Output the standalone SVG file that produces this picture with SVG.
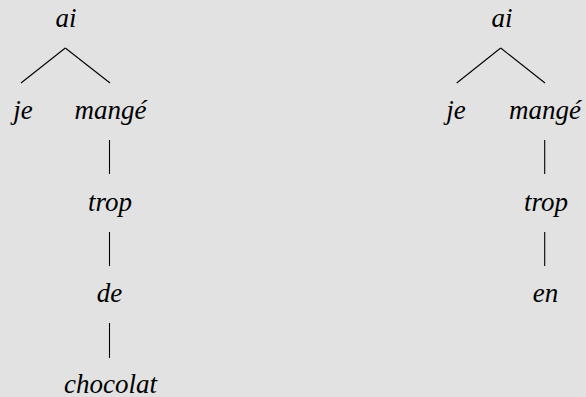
<svg xmlns="http://www.w3.org/2000/svg" width="586" height="397" viewBox="0 0 586 397">
<style>
.e line{stroke:#000;stroke-width:1.1}
</style>
<rect width="586" height="397" fill="#e2e2e2"/>
<g class="e" id="edges">
<line x1="65.3" y1="48" x2="21" y2="83"/>
<line x1="65.3" y1="48" x2="110" y2="83"/>
<line x1="109.5" y1="140" x2="109.5" y2="174"/>
<line x1="109.5" y1="232" x2="109.5" y2="266"/>
<line x1="109.5" y1="323" x2="109.5" y2="358"/>
<line x1="500.7" y1="48" x2="456.7" y2="83"/>
<line x1="500.7" y1="48" x2="545" y2="83"/>
<line x1="544.7" y1="140" x2="544.7" y2="174"/>
<line x1="544.7" y1="232" x2="544.7" y2="266"/>
</g>
<g font-family="Liberation Serif, serif" font-style="italic" font-size="27" fill="#000" text-anchor="middle">
<g id="t1-ai"><text x="66" y="26.5">ai</text></g>
<g id="t1-je"><text x="23" y="119">je</text></g>
<g id="t1-mange"><text x="110.5" y="119">mangé</text></g>
<g id="t1-trop"><text x="110" y="211">trop</text></g>
<g id="t1-de"><text x="109.5" y="302">de</text></g>
<g id="t1-chocolat"><text x="110.5" y="393">chocolat</text></g>
<g id="t2-ai"><text x="502" y="26.5">ai</text></g>
<g id="t2-je"><text x="456" y="119">je</text></g>
<g id="t2-mange"><text x="545" y="119">mangé</text></g>
<g id="t2-trop"><text x="546" y="211">trop</text></g>
<g id="t2-en"><text x="545.5" y="302">en</text></g>
</g>
</svg>
